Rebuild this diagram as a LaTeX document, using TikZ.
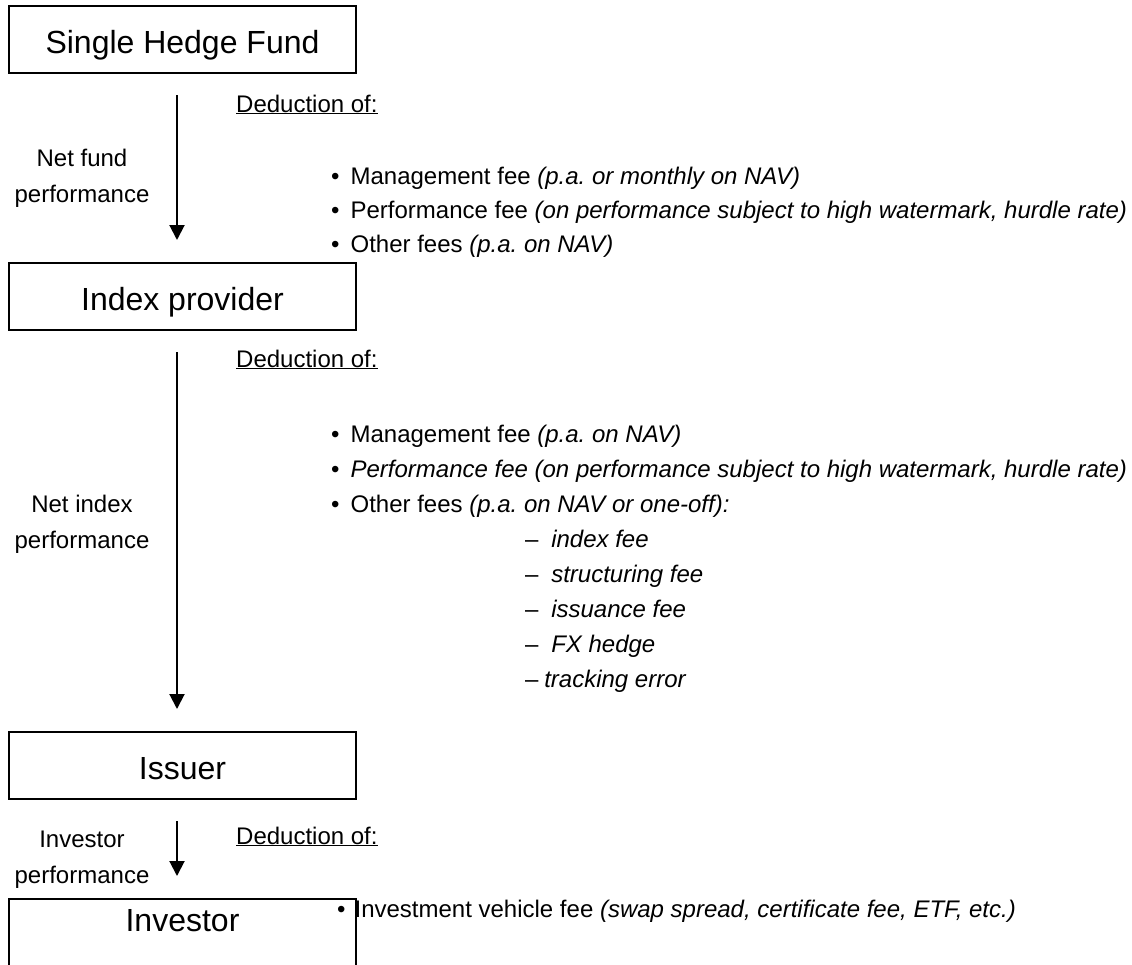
\documentclass[tikz,border=0pt]{standalone}
\usepackage{fontspec}
\setmainfont{Liberation Sans}
\usepackage{tikz}
\usetikzlibrary{arrows.meta}
\frenchspacing
\tikzset{
  font={\fontsize{24pt}{36pt}\selectfont}}
\tikzset{
  stage/.style={draw, shape=rectangle, line width=2pt, inner sep=0pt, minimum height=67pt, minimum width=347pt, text height=28pt, text depth=0pt, font={\fontsize{32pt}{38pt}\selectfont}},
  flow/.style={-{Triangle[length=15pt,width=15pt]}, line width=2pt, shorten <=21pt, shorten >=22pt},
  side/.style={align=center, inner sep=0pt},
  txt/.style={anchor=base west, inner sep=0pt}}

\begin{document}
\begin{tikzpicture}[x=1pt, y=-1pt]
  \useasboundingbox (0,0) rectangle (1132,964);
  \node (sf) [stage] at (182.5,39.5) {Single Hedge Fund};
  \node (ip) [stage] at (182.5,296.5) {Index provider};
  \node (is) [stage] at (182.5,765.5) {Issuer};
  \node (inv) [stage, text depth=31pt] at (182.5,932.5) {Investor};
  \node (l1) [side] at (82,178) {Net fund\\performance};
  \node (l2) [side] at (82,524) {Net index\\performance};
  \node (l3) [side] at (82,860) {Investor\\performance};
  \node (ded1) [txt] at (236,112) {\underline{Deduction of:}};
  \node (ded2) [txt] at (236,367) {\underline{Deduction of:}};
  \node (ded3) [txt] at (236,844) {\underline{Deduction of:}};
  \node (a1) [txt] at (331,184) {\textbullet\hspace{11pt}Management fee \textit{(p.a. or monthly on NAV)}};
  \node (a2) [txt] at (331,218) {\textbullet\hspace{11pt}Performance fee \textit{(on performance subject to high watermark, hurdle rate)}};
  \node (a3) [txt] at (331,252) {\textbullet\hspace{11pt}Other fees \textit{(p.a. on NAV)}};
  \node (b1) [txt] at (331,442) {\textbullet\hspace{11pt}Management fee \textit{(p.a. on NAV)}};
  \node (b2) [txt] at (331,477) {\textbullet\hspace{11pt}\textit{Performance fee (on performance subject to high watermark, hurdle rate)}};
  \node (b3) [txt] at (331,512) {\textbullet\hspace{11pt}Other fees \textit{(p.a. on NAV or one-off):}};
  \foreach \t/\g [count=\i] in {index fee/12.7pt, structuring fee/12.7pt, issuance fee/12.7pt, FX hedge/12.7pt, tracking error/5.7pt}
    \node (d\i) [txt] at (525,512+35*\i) {--\hspace{\g}\textit{\t}};
  \node (c1) [txt] at (337,917) {\textbullet\hspace{9pt}Investment vehicle fee \textit{(swap spread, certificate fee, ETF, etc.)}};
  \draw[flow] ([xshift=-5.5pt]sf.south) -- ([xshift=-5.5pt]ip.north);
  \draw[flow] ([xshift=-5.5pt]ip.south) -- ([xshift=-5.5pt]is.north);
  \draw[flow] ([xshift=-5.5pt]is.south) -- ([xshift=-5.5pt]inv.north);
\end{tikzpicture}
\end{document}
